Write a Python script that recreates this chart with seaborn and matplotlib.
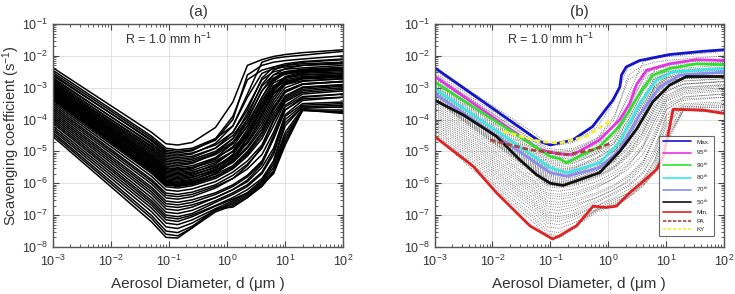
import matplotlib
matplotlib.use("Agg")
import matplotlib.pyplot as plt
import numpy as np
import pandas as pd
import seaborn as sns

# log10 of aerosol diameter (um) where the single curves were read
grid_logd = [-3, -1.3, -1.05, -0.85, -0.6, -0.2, 0.1, 0.35, 0.6, 0.8, 1.0, 1.3, 2]

# log10 of scavenging coefficient (1/s), one row per curve
curve_logs = [
    [-2.37, -4.40, -4.76, -4.80, -4.72, -4.25, -3.45, -2.30, -2.12, -2.02, -1.96, -1.90, -1.81],
    [-2.45, -4.52, -4.90, -4.95, -4.90, -4.60, -4.20, -3.20, -2.20, -2.08, -2.03, -1.98, -1.86],
    [-2.52, -4.58, -4.96, -5.00, -4.95, -4.65, -4.00, -2.60, -2.30, -2.20, -2.15, -2.10, -2.00],
    [-2.58, -4.67, -5.06, -5.10, -5.05, -4.80, -4.40, -3.70, -2.70, -2.35, -2.25, -2.18, -2.10],
    [-2.62, -4.64, -5.01, -5.05, -4.98, -4.60, -3.90, -2.75, -2.45, -2.35, -2.30, -2.25, -2.20],
    [-2.68, -4.77, -5.16, -5.20, -5.15, -4.90, -4.50, -3.90, -2.90, -2.45, -2.30, -2.20, -2.12],
    [-2.72, -4.74, -5.11, -5.15, -5.08, -4.75, -4.20, -3.30, -2.55, -2.40, -2.35, -2.30, -2.22],
    [-2.76, -4.87, -5.26, -5.30, -5.25, -5.00, -4.60, -4.00, -3.10, -2.60, -2.40, -2.30, -2.25],
    [-2.80, -4.83, -5.21, -5.25, -5.20, -4.90, -4.40, -3.60, -2.75, -2.50, -2.42, -2.38, -2.30],
    [-2.84, -4.92, -5.31, -5.35, -5.30, -5.05, -4.70, -4.10, -3.30, -2.70, -2.50, -2.42, -2.36],
    [-2.86, -4.96, -5.36, -5.40, -5.35, -5.10, -4.75, -4.20, -3.50, -2.80, -2.55, -2.45, -2.38],
    [-2.90, -5.01, -5.41, -5.45, -5.38, -5.05, -4.60, -3.80, -2.95, -2.60, -2.50, -2.45, -2.40],
    [-2.93, -5.06, -5.46, -5.50, -5.45, -5.20, -4.90, -4.40, -3.70, -3.00, -2.65, -2.52, -2.45],
    [-2.96, -5.11, -5.51, -5.55, -5.50, -5.25, -4.85, -4.20, -3.30, -2.75, -2.55, -2.47, -2.42],
    [-3.00, -5.14, -5.54, -5.58, -5.52, -5.30, -5.00, -4.50, -3.85, -3.10, -2.70, -2.55, -2.50],
    [-3.03, -5.18, -5.58, -5.62, -5.55, -5.20, -4.75, -4.00, -3.10, -2.70, -2.58, -2.50, -2.45],
    [-3.06, -5.22, -5.62, -5.66, -5.60, -5.35, -5.00, -4.45, -3.60, -2.95, -2.70, -2.60, -2.55],
    [-3.09, -5.25, -5.66, -5.70, -5.65, -5.45, -5.15, -4.70, -4.00, -3.30, -2.85, -2.68, -2.60],
    [-3.12, -5.29, -5.70, -5.74, -5.68, -5.40, -5.00, -4.30, -3.40, -2.85, -2.68, -2.60, -2.55],
    [-3.15, -5.33, -5.74, -5.78, -5.72, -5.50, -5.20, -4.75, -4.10, -3.40, -2.90, -2.72, -2.65],
    [-3.18, -5.37, -5.78, -5.82, -5.76, -5.50, -5.10, -4.50, -3.70, -3.05, -2.80, -2.70, -2.62],
    [-3.21, -5.40, -5.82, -5.86, -5.80, -5.60, -5.30, -4.85, -4.20, -3.50, -3.00, -2.80, -2.72],
    [-3.24, -5.44, -5.86, -5.90, -5.83, -5.55, -5.10, -4.40, -3.50, -2.95, -2.75, -2.65, -2.60],
    [-3.27, -5.48, -5.90, -5.94, -5.88, -5.65, -5.35, -4.90, -4.30, -3.60, -3.10, -2.88, -2.80],
    [-3.30, -5.51, -5.93, -5.97, -5.90, -5.60, -5.20, -4.60, -3.80, -3.15, -2.85, -2.72, -2.68],
    [-3.32, -5.54, -5.96, -6.00, -5.94, -5.72, -5.45, -5.00, -4.40, -3.70, -3.15, -2.90, -2.80],
    [-3.34, -5.57, -5.99, -6.03, -5.96, -5.70, -5.30, -4.70, -3.90, -3.20, -2.90, -2.78, -2.72],
    [-3.36, -5.60, -6.02, -6.06, -6.00, -5.78, -5.50, -5.10, -4.50, -3.80, -3.25, -2.98, -2.90],
    [-3.38, -5.62, -6.04, -6.08, -6.00, -5.70, -5.25, -4.55, -3.60, -3.00, -2.80, -2.70, -2.65],
    [-3.40, -5.64, -6.06, -6.10, -6.04, -5.80, -5.50, -5.05, -4.40, -3.65, -3.10, -2.88, -2.82],
    [-3.46, -5.69, -6.11, -6.15, -6.08, -5.85, -5.55, -5.15, -4.60, -3.90, -3.30, -3.00, -2.92],
    [-3.52, -5.78, -6.21, -6.25, -6.18, -5.95, -5.65, -5.30, -4.80, -4.00, -3.35, -3.05, -2.95],
    [-3.58, -5.88, -6.31, -6.35, -6.28, -6.05, -5.75, -5.40, -4.90, -4.20, -3.45, -3.15, -3.05],
    [-3.64, -5.94, -6.38, -6.42, -6.35, -6.10, -5.85, -5.55, -5.10, -4.40, -3.55, -3.20, -3.10],
    [-3.70, -6.02, -6.46, -6.50, -6.42, -6.15, -5.85, -5.45, -4.85, -4.05, -3.40, -3.10, -3.00],
    [-3.76, -6.12, -6.56, -6.60, -6.52, -6.30, -6.05, -5.75, -5.30, -4.60, -3.70, -3.30, -3.20],
    [-3.82, -6.19, -6.64, -6.68, -6.60, -6.35, -6.10, -5.80, -5.35, -4.50, -3.60, -3.28, -3.20],
    [-3.88, -6.27, -6.72, -6.76, -6.68, -6.45, -6.20, -5.95, -5.50, -4.90, -3.85, -3.40, -3.30],
    [-3.94, -6.35, -6.81, -6.85, -6.75, -6.45, -6.20, -5.90, -5.40, -4.60, -3.70, -3.35, -3.30],
    [-4.00, -6.45, -6.91, -6.95, -6.85, -6.55, -6.30, -6.05, -5.65, -5.00, -3.90, -3.50, -3.45],
    [-4.06, -6.54, -7.00, -7.05, -6.95, -6.60, -6.35, -6.10, -5.70, -5.10, -4.00, -3.55, -3.50],
    [-4.12, -6.61, -7.07, -7.12, -7.00, -6.70, -6.45, -6.20, -5.85, -5.30, -4.20, -3.60, -3.55],
    [-4.20, -6.69, -7.15, -7.20, -7.05, -6.72, -6.50, -6.30, -5.95, -5.40, -4.40, -3.65, -3.60],
    [-4.27, -6.78, -7.25, -7.30, -7.15, -6.80, -6.55, -6.30, -5.90, -5.30, -4.10, -3.60, -3.62],
    [-4.33, -6.89, -7.37, -7.42, -7.25, -6.85, -6.60, -6.35, -6.00, -5.50, -4.50, -3.70, -3.70],
    [-4.40, -7.01, -7.50, -7.55, -7.35, -6.85, -6.65, -6.40, -6.05, -5.60, -4.60, -3.72, -3.75],
    [-4.46, -7.10, -7.60, -7.65, -7.40, -6.90, -6.70, -6.45, -6.10, -5.65, -4.70, -3.70, -3.78],
    [-4.53, -7.21, -7.70, -7.72, -7.40, -6.80, -6.75, -6.45, -6.05, -5.70, -4.80, -3.70, -3.81],
]

# statistics shown in panel (b): (log10 d, log10 coefficient)
max_x = [-3, -1.18, -1.0, -0.61, -0.27, 0.08, 0.2, 0.23, 0.31, 0.54, 1.06, 1.63, 2.0]
max_y = [-2.37, -4.69, -4.8, -4.64, -4.22, -3.39, -2.98, -2.6, -2.35, -2.15, -1.96, -1.86, -1.81]
p95_x = [-3, -1.18, -0.85, -0.61, -0.15, 0.2, 0.37, 0.49, 0.66, 1.06, 1.52, 2.0]
p95_y = [-2.64, -4.95, -5.08, -5.1, -4.64, -4.0, -3.5, -2.9, -2.46, -2.25, -2.12, -2.15]
p90_x = [-3, -1.0, -0.85, -0.72, -0.55, -0.15, 0.2, 0.37, 0.54, 0.77, 1.06, 1.52, 2.0]
p90_y = [-2.82, -5.16, -5.22, -5.36, -5.2, -4.85, -4.2, -3.7, -3.18, -2.61, -2.4, -2.25, -2.28]
p80_x = [-3, -1.0, -0.72, -0.15, 0.2, 0.54, 0.83, 1.11, 2.0]
p80_y = [-3.03, -5.51, -5.67, -5.36, -4.7, -3.5, -2.77, -2.51, -2.4]
p70_x = [-3, -1.0, -0.72, -0.15, 0.2, 0.54, 0.89, 1.23, 2.0]
p70_y = [-3.18, -5.67, -5.78, -5.51, -4.95, -3.85, -2.98, -2.61, -2.51]
p50_x = [-3, -2.5, -1.93, -1.53, -1.24, -1.0, -0.78, -0.15, 0.2, 0.49, 0.77, 1.06, 1.35, 2.0]
p50_y = [-3.39, -3.86, -4.53, -5.26, -5.73, -6.0, -6.07, -5.67, -5.0, -4.3, -3.44, -2.92, -2.65, -2.65]
min_x = [-3, -2.33, -1.93, -1.35, -0.96, -0.84, -0.55, -0.26, -0.03, 0.14, 0.37, 0.54, 0.84, 0.95, 1.02, 1.12, 1.63, 2.0]
min_y = [-4.53, -5.47, -6.3, -7.34, -7.75, -7.65, -7.34, -6.72, -6.76, -6.72, -6.3, -6.04, -5.56, -5.15, -4.6, -3.68, -3.7, -3.81]
pa_x = [-2.04, -1.35, -0.72, -0.26, 0.05]
pa_y = [-4.64, -4.95, -5.1, -4.95, -4.74]
ky_x = [-1.82, -1.18, -0.84, -0.38, 0.05]
ky_y = [-4.37, -4.69, -4.74, -4.53, -4.02]

stats = [
    ("Max.", max_x, max_y, "#1414c8", "-"),
    ("95$^{th}$", p95_x, p95_y, "#e633e6", "-"),
    ("90$^{th}$", p90_x, p90_y, "#2fe02f", "-"),
    ("80$^{th}$", p80_x, p80_y, "#3ee6e6", "-"),
    ("70$^{th}$", p70_x, p70_y, "#8c8cf0", "-"),
    ("50$^{th}$", p50_x, p50_y, "#111111", "-"),
    ("Min.", min_x, min_y, "#e02222", "-"),
    ("PA", pa_x, pa_y, "#a8453a", (0, (2, 1))),
    ("KY", ky_x, ky_y, "#f2f03c", (0, (2, 1))),
]

rows = []
for i, ys in enumerate(curve_logs):
    for lx, ly in zip(grid_logd, ys):
        rows.append((i, 10.0 ** lx, 10.0 ** ly))
df = pd.DataFrame(rows, columns=["curve", "d", "lam"])

sns.set_theme(style="white")
plt.rcParams["font.family"] = ["Liberation Sans", "DejaVu Sans"]
plt.rcParams["mathtext.fontset"] = "custom"
plt.rcParams["mathtext.rm"] = "Liberation Sans"
plt.rcParams["mathtext.it"] = "Liberation Sans:italic"

fig = plt.figure(figsize=(7.35, 2.94), dpi=100)
ax1 = fig.add_axes([0.0717, 0.160, 0.3954, 0.7585])
ax2 = fig.add_axes([0.5912, 0.160, 0.3939, 0.7585])

for ax in (ax1, ax2):
    ax.set_xscale("log")
    ax.set_yscale("log")

sns.lineplot(data=df, x="d", y="lam", units="curve", estimator=None,
             color="black", lw=1.1, ax=ax1, legend=False)
sns.lineplot(data=df, x="d", y="lam", units="curve", estimator=None,
             color="#555555", lw=0.6, ls=":", ax=ax2, legend=False)

for name, xs, ys, col, ls in stats:
    sns.lineplot(x=10.0 ** np.array(xs), y=10.0 ** np.array(ys), color=col,
                 lw=2.0, ls=ls, label=name, ax=ax2, sort=False)

txtc = "#333333"
for ax, tag in ((ax1, "(a)"), (ax2, "(b)")):
    ax.set_xlim(1e-3, 1e2)
    ax.set_ylim(1e-8, 1e-1)
    ax.set_xticks([1e-3, 1e-2, 1e-1, 1e0, 1e1, 1e2])
    ax.set_yticks([1e-8, 1e-7, 1e-6, 1e-5, 1e-4, 1e-3, 1e-2, 1e-1])
    ax.grid(True, which="major", color="#dddddd", lw=0.6)
    ax.tick_params(which="both", direction="in", top=True, right=True,
                   bottom=True, left=True, colors="#444444",
                   labelcolor=txtc, labelsize=9)
    ax.tick_params(which="major", length=4, width=0.8)
    ax.tick_params(which="minor", length=2, width=0.6)
    ax.tick_params(axis="x", which="major", pad=5)
    for sp in ax.spines.values():
        sp.set_color("#555555")
        sp.set_linewidth(1.0)
    ax.set_title(tag, fontsize=11, color=txtc, pad=6)
    ax.set_xlabel("Aerosol Diameter, d (\u03bcm )", fontsize=11, color=txtc, labelpad=6)
    ax.set_ylabel("")
    ax.text(1e-1, 10 ** -1.5, "R = 1.0 mm h$^{-1}$", ha="center", va="center",
            fontsize=9, color=txtc)

ax1.set_ylabel("Scavenging coefficient (s$^{-1}$)", fontsize=10.5, color=txtc)
ax1.yaxis.set_label_coords(-0.105, 0.5)

leg = ax2.legend(loc="lower right", fontsize=4.5, frameon=True, fancybox=False,
                 edgecolor="#444444", handlelength=4.5, borderpad=0.6,
                 labelspacing=0.5, bbox_to_anchor=(0.975, 0.035))
leg.get_frame().set_linewidth(0.8)
for h in leg.get_lines():
    h.set_linewidth(1.2)

fig.savefig("out.png", dpi=100)
